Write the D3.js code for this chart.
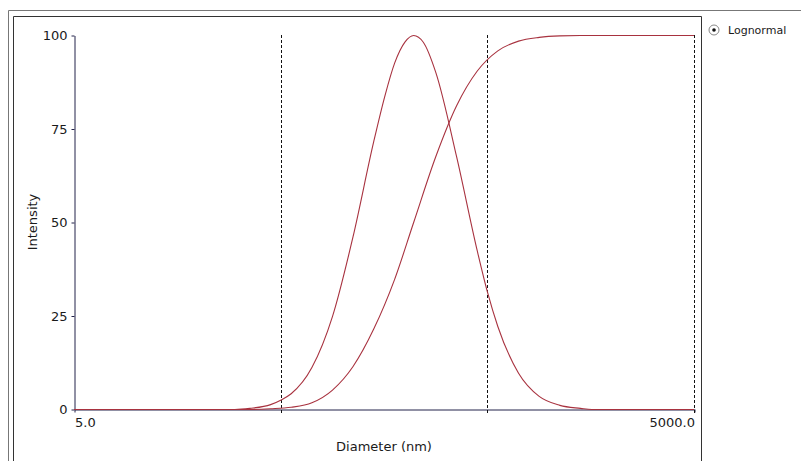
<!DOCTYPE html>
<html>
<head>
<meta charset="utf-8">
<script src="https://cdn.jsdelivr.net/npm/d3@7"></script>
<style>
  body { margin: 0; background: #fff; }
  svg { display: block; font-family: "DejaVu Sans", Verdana, sans-serif; }
</style>
</head>
<body>
<div id="chart"></div>
<script>
// data
var xTicks = [5, 5000]
var yTicks = [0, 25, 50, 75, 100]
var markers = [50, 500, 5000]

// intensity distribution (lognormal fit)
var distDiam = [5, 30, 35.5, 44.7, 50, 56.2, 70.8, 89.1, 112, 141, 160, 178, 200, 220, 245, 282, 355, 447, 500, 562, 708, 891, 1122, 1413, 1600, 5000]
var distVal = [0, 0, 0.3, 1.3, 2.5, 4.2, 11.2, 24.9, 46.2, 71.6, 84, 92.6, 98.3, 100, 98.2, 90, 67.6, 42.4, 31.5, 22.2, 9.7, 3.5, 1.1, 0.3, 0, 0]

// cumulative curve
var cumDiam = [5, 35.5, 44.7, 56.2, 70.8, 89.1, 112, 141, 178, 220, 282, 355, 447, 562, 708, 891, 1122, 1413, 5000]
var cumVal = [0, 0, 0.2, 0.6, 1.8, 5.2, 11.5, 21.5, 34.8, 50, 67.7, 81.2, 90.5, 95.9, 98.5, 99.5, 99.9, 100, 100]

var width = 801
var height = 461
var svg = d3.select('#chart').append('svg')
  .attr('width', width)
  .attr('height', height)

// panel frames
svg.append('path').attr('d', 'M8.5,461V10.5H801').attr('fill', 'none').attr('stroke', '#777')
svg.append('path').attr('d', 'M13.5,461V16.5H701.5V461').attr('fill', 'none').attr('stroke', '#333')

var x = d3.scaleLog().domain([5, 5000]).range([74, 694])
var y = d3.scaleLinear().domain([0, 100]).range([409, 35])

var axisColor = '#22224a'
var textColor = '#1a1a1a'

// y axis
var gy = svg.append('g')
  .attr('transform', 'translate(74.5,0.5)')
  .call(d3.axisLeft(y).tickValues(yTicks).tickSize(3).tickSizeOuter(0).tickPadding(4))
gy.select('.domain').attr('stroke', axisColor)
gy.selectAll('.tick line').attr('stroke', axisColor)
gy.selectAll('.tick text').attr('font-size', 13).attr('fill', textColor).attr('font-family', 'DejaVu Sans, Verdana, sans-serif')

// x axis
var gx = svg.append('g')
  .attr('transform', 'translate(0.5,409.5)')
  .call(d3.axisBottom(x).tickValues(xTicks).tickFormat(d3.format('.1f')).tickSize(3).tickSizeOuter(0).tickPadding(5))
gx.select('.domain').attr('stroke', axisColor)
gx.selectAll('.tick line').attr('stroke', axisColor)
gx.selectAll('.tick text')
  .attr('font-size', 13).attr('fill', textColor).attr('font-family', 'DejaVu Sans, Verdana, sans-serif')
  .attr('text-anchor', function (d) { return d === 5 ? 'start' : 'end' })

// dashed marker lines
svg.selectAll('line.marker')
  .data(markers)
  .enter()
  .append('line')
  .attr('class', 'marker')
  .attr('x1', function (d) { return Math.round(x(d)) + 0.5 })
  .attr('x2', function (d) { return Math.round(x(d)) + 0.5 })
  .attr('y1', y(100))
  .attr('y2', y(0) + 4)
  .attr('stroke', '#111')
  .attr('stroke-dasharray', '3,2')

// curves
var line = d3.line()
  .x(function (d) { return x(d[0]) })
  .y(function (d) { return y(d[1]) + 0.5 })
  .curve(d3.curveMonotoneX)

var curveColor = '#a8323f'
svg.append('path')
  .datum(d3.zip(distDiam, distVal))
  .attr('d', line)
  .attr('fill', 'none')
  .attr('stroke', curveColor)
  .attr('stroke-width', 1.1)
svg.append('path')
  .datum(d3.zip(cumDiam, cumVal))
  .attr('d', line)
  .attr('fill', 'none')
  .attr('stroke', curveColor)
  .attr('stroke-width', 1.1)

// axis titles
svg.append('text')
  .attr('x', 384).attr('y', 451)
  .attr('text-anchor', 'middle')
  .attr('font-size', 13).attr('fill', textColor)
  .text('Diameter (nm)')
svg.append('text')
  .attr('transform', 'translate(37,222) rotate(-90)')
  .attr('text-anchor', 'middle')
  .attr('font-size', 13).attr('fill', textColor)
  .text('Intensity')

// legend radio
svg.append('circle').attr('cx', 714).attr('cy', 30).attr('r', 5)
  .attr('fill', '#fff').attr('stroke', '#888')
svg.append('circle').attr('cx', 714).attr('cy', 30).attr('r', 1.8).attr('fill', '#111')
svg.append('text')
  .attr('x', 728).attr('y', 34)
  .attr('font-size', 11).attr('fill', textColor)
  .text('Lognormal')
</script>
</body>
</html>
